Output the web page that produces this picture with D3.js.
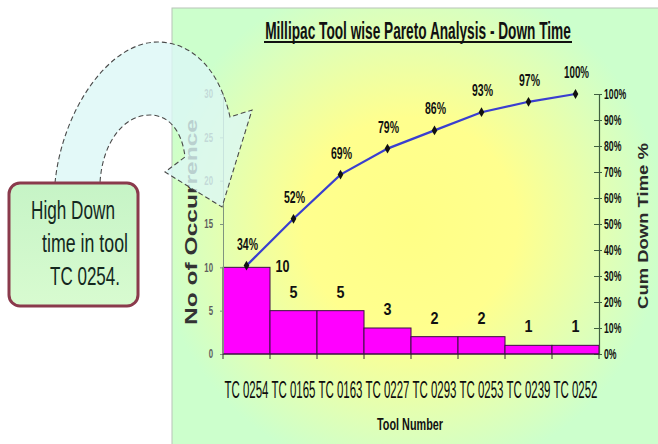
<!DOCTYPE html>
<html>
<head>
<meta charset="utf-8">
<script src="https://cdn.jsdelivr.net/npm/d3@7/dist/d3.min.js"></script>
<style>
  html, body { margin: 0; padding: 0; background: #ffffff; }
  svg { display: block; }
  text { font-family: "Liberation Sans", Arial, sans-serif; }
</style>
</head>
<body>
<svg id="chart" width="658" height="444"></svg>
<script>
// Tool-wise down time occurrences (Pareto order)
const tools = ["TC 0254", "TC 0165", "TC 0163", "TC 0227", "TC 0293", "TC 0253", "TC 0239", "TC 0252"];
const occurrences = [10, 5, 5, 3, 2, 2, 1, 1];
// Cumulative share of down time, percent
const cumPercent = [34, 52, 69, 79, 86, 93, 97, 100];
// Axis ticks
const countTicks = [0, 5, 10, 15, 20, 25, 30];
const percentTicks = [0, 10, 20, 30, 40, 50, 60, 70, 80, 90, 100];
const calloutLines = ["High Down", "time in tool", "TC 0254."];

const svg = d3.select("#chart");
const defs = svg.append("defs");

// Draws a horizontally condensed label: text is squeezed to the given width
function condensed(parent, tx, ty, str, width, attrs, rotate) {
  const g = parent.append("g");
  const t = g.append("text").attr("text-anchor", "middle").text(str);
  Object.entries(attrs).forEach(([k, v]) => t.attr(k, v));
  const natural = t.node().getComputedTextLength() || width;
  const sx = width / natural;
  g.attr("transform", `translate(${tx},${ty})${rotate ? " rotate(-90)" : ""} scale(${sx},1)`);
  return t;
}

// Panel background: yellow glow fading to pale green
const bg = defs.append("radialGradient")
  .attr("id", "panelBg")
  .attr("gradientUnits", "userSpaceOnUse")
  .attr("cx", 410).attr("cy", 225).attr("r", 255);
bg.append("stop").attr("offset", 0).attr("stop-color", "#ffff86");
bg.append("stop").attr("offset", 0.42).attr("stop-color", "#ffff8e");
bg.append("stop").attr("offset", 0.78).attr("stop-color", "#e0ffb6");
bg.append("stop").attr("offset", 1).attr("stop-color", "#ccffcc");

const boxBg = defs.append("linearGradient")
  .attr("id", "boxBg").attr("x1", 0).attr("y1", 0).attr("x2", 0).attr("y2", 1);
boxBg.append("stop").attr("offset", 0).attr("stop-color", "#c6f4c6");
boxBg.append("stop").attr("offset", 1).attr("stop-color", "#d8fbd0");

// Chart panel
svg.append("rect")
  .attr("x", 172).attr("y", 8).attr("width", 490).attr("height", 440)
  .attr("fill", "url(#panelBg)")
  .attr("stroke", "#b8c4b8").attr("stroke-width", 1);

// Scales
const x = d3.scaleBand().domain(tools).range([223, 599]).padding(0);
const yCount = d3.scaleLinear().domain([0, 30]).range([354, 94]);
const yPct = d3.scaleLinear().domain([0, 100]).range([354, 94]);

// Title (condensed heavy face, underlined)
condensed(svg, 418, 39, "Millipac Tool wise Pareto Analysis - Down Time", 306,
  { "font-size": 24, "font-weight": "bold", fill: "#111" });
svg.append("line")
  .attr("x1", 264).attr("x2", 572).attr("y1", 42).attr("y2", 42)
  .attr("stroke", "#111").attr("stroke-width", 1.8);

// Bars
svg.append("g").selectAll("rect")
  .data(occurrences)
  .join("rect")
  .attr("x", (d, i) => x(tools[i]))
  .attr("y", d => yCount(d))
  .attr("width", x.bandwidth())
  .attr("height", d => yCount(0) - yCount(d))
  .attr("fill", "#ff00ff")
  .attr("stroke", "#3a1040").attr("stroke-width", 1);

// Left axis (occurrences)
const leftAxis = svg.append("g")
  .attr("transform", "translate(223,0)")
  .call(d3.axisLeft(yCount).tickValues(countTicks).tickSize(3).tickPadding(6));
leftAxis.select(".domain").attr("stroke", "#7f947f");
leftAxis.selectAll(".tick line").attr("stroke", "#7f947f");
leftAxis.selectAll(".tick text")
  .attr("fill", "#5e5e5e").attr("font-size", 12).attr("font-weight", "bold")
  .attr("transform", "scale(0.65,1)")
  .attr("x", -10 / 0.65);

// Right axis (cumulative %)
const rightAxis = svg.append("g")
  .attr("transform", "translate(599,0)")
  .call(d3.axisRight(yPct).tickValues(percentTicks).tickFormat(d => d + "%")
    .tickSizeInner(3).tickSizeOuter(0).tickPadding(3));
rightAxis.select(".domain").attr("stroke", "#3f5f3f").attr("stroke-width", 1.2);
rightAxis.selectAll(".tick line").attr("stroke", "#3f5f3f").attr("x1", -5).attr("x2", 3);
rightAxis.selectAll(".tick text")
  .attr("fill", "#111").attr("font-size", 14).attr("font-weight", "bold")
  .attr("transform", "scale(0.62,1)")
  .attr("x", 5 / 0.62);

// Baseline and category ticks
svg.append("line")
  .attr("x1", 223).attr("x2", 599).attr("y1", 354).attr("y2", 354)
  .attr("stroke", "#3a1040");
svg.append("g").selectAll("line")
  .data(d3.range(tools.length + 1))
  .join("line")
  .attr("x1", i => 223 + i * x.bandwidth()).attr("x2", i => 223 + i * x.bandwidth())
  .attr("y1", 354).attr("y2", 359)
  .attr("stroke", "#333").attr("stroke-width", 1);

// Category labels
const catLayer = svg.append("g");
tools.forEach(t => {
  condensed(catLayer, x(t) + x.bandwidth() / 2, 398, t, 44,
    { "font-size": 23, fill: "#0d0d0d" });
});

// Axis titles
condensed(svg, 410, 430, "Tool Number", 66,
  { "font-size": 17, "font-weight": "bold", fill: "#111" });

condensed(svg, 197, 222, "No of Occurrence", 206,
  { "font-size": 17, "font-weight": "bold", fill: "#333",
    "font-family": "'DejaVu Sans', sans-serif" }, true);

condensed(svg, 648, 226, "Cum Down Time %", 166,
  { "font-size": 15, "font-weight": "bold", fill: "#2a2a2a",
    "font-family": "'DejaVu Sans', sans-serif" }, true);

// Bar value labels
const valLayer = svg.append("g");
occurrences.forEach((d, i) => {
  condensed(valLayer,
    x(tools[i]) + x.bandwidth() / 2 + (i === 0 ? 36 : 0),
    yCount(d) - (i === 0 ? -5 : 13),
    String(d), d >= 10 ? 14 : 8,
    { "font-size": 16, "font-weight": "bold", fill: "#111" });
});

// Cumulative line
const cx = (d, i) => x(tools[i]) + x.bandwidth() / 2;
svg.append("path")
  .datum(cumPercent)
  .attr("d", d3.line().x(cx).y(d => yPct(d)))
  .attr("fill", "none")
  .attr("stroke", "#3a3fd0").attr("stroke-width", 2.2);

svg.append("g").selectAll("path")
  .data(cumPercent)
  .join("path")
  .attr("transform", (d, i) => `translate(${cx(d, i)},${yPct(d)})`)
  .attr("d", d3.symbol(d3.symbolDiamond, 28))
  .attr("fill", "#111");

// Cumulative % labels
const pctLayer = svg.append("g");
cumPercent.forEach((d, i) => {
  condensed(pctLayer, cx(d, i) + 1, yPct(d) - 16, d + "%", d === 100 ? 25 : 21,
    { "font-size": 16, "font-weight": "bold", fill: "#111" });
});

// Curved callout arrow from the note box into the chart
const arrow = d3.path();
arrow.moveTo(55, 183);
arrow.bezierCurveTo(62, 110, 110, 40, 160, 42);
arrow.bezierCurveTo(200, 44, 222, 80, 230, 117);
arrow.lineTo(252, 110);
arrow.lineTo(222, 207);
arrow.lineTo(165, 172);
arrow.lineTo(185, 157);
arrow.bezierCurveTo(182, 130, 168, 115, 150, 115);
arrow.bezierCurveTo(122, 115, 102, 145, 100, 183);
arrow.closePath();
svg.append("path")
  .attr("d", arrow.toString())
  .attr("fill", "#dcf8f6").attr("fill-opacity", 0.8)
  .attr("stroke", "#4a4a4a").attr("stroke-width", 1.1)
  .attr("stroke-dasharray", "5,3");

// Note box
svg.append("rect")
  .attr("x", 9).attr("y", 183).attr("width", 129).attr("height", 123)
  .attr("rx", 11)
  .attr("fill", "url(#boxBg)")
  .attr("stroke", "#8a3a4c").attr("stroke-width", 3);

const noteX = [73, 85, 85];
const noteW = [84, 86, 70];
const noteLayer = svg.append("g");
calloutLines.forEach((line, i) => {
  condensed(noteLayer, noteX[i], 219 + i * 33, line, noteW[i],
    { "font-size": 25, fill: "#14281e" });
});
</script>
</body>
</html>
